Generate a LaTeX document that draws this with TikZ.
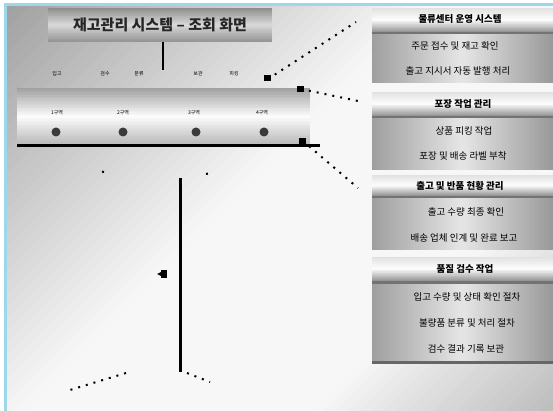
\documentclass[tikz,border=0pt]{standalone}
\usepackage{fontspec}
\newfontfamily\kr{Noto Sans CJK KR}
\usetikzlibrary{arrows.meta}
\definecolor{edgecyan}{HTML}{9ED8E8}
\definecolor{dotgray}{HTML}{3A3A3A}
% vertical gradient: x1 y1 x2 y2 top mid bottom (brightness in %)
\newcommand\vgradbox[7]{%
  \foreach \k in {0,...,39}{%
    \pgfmathsetmacro\gt{(\k+0.5)/40}%
    \pgfmathsetmacro\gb{\gt<0.5 ? #5+(#6-#5)*2*\gt : #6+(#7-#6)*(2*\gt-1)}%
    \pgfmathsetmacro\ya{#2+(#4-#2)*\k/40}%
    \pgfmathsetmacro\yb{min(#2+(#4-#2)*(\k+1)/40+0.4,#4)}%
    \fill[white!\gb!black] (#1,\ya) rectangle (#3,\yb);
  }}
% horizontal gradient: x1 y1 x2 y2 left mid right
\newcommand\hgradbox[7]{%
  \foreach \k in {0,...,59}{%
    \pgfmathsetmacro\gt{(\k+0.5)/60}%
    \pgfmathsetmacro\gb{\gt<0.5 ? #5+(#6-#5)*2*\gt : #6+(#7-#6)*(2*\gt-1)}%
    \pgfmathsetmacro\xa{#1+(#3-#1)*\k/60}%
    \pgfmathsetmacro\xb{min(#1+(#3-#1)*(\k+1)/60+0.4,#3)}%
    \fill[white!\gb!black] (\xa,#2) rectangle (\xb,#4);
  }}
\begin{document}
\begin{tikzpicture}[x=1pt,y=-1pt,
  hdrtext/.style={font=\kr\fontsize{9.5}{11}\selectfont\bfseries, text=black, inner sep=0pt},
  paneltext/.style={font=\kr\fontsize{9.5}{11}\selectfont, text=black, inner sep=0pt},
  tinytext/.style={font=\kr\fontsize{5}{6}\selectfont, text=black, inner sep=0pt},
  dotline/.style={line width=2pt, dash pattern=on 2pt off 6pt},
  sparse/.style={line width=2pt, dash pattern=on 2pt off 9pt},
  marker/.style={fill=dotgray, draw=none, circle, minimum size=9pt, inner sep=0pt}
]
\useasboundingbox (0,0) rectangle (553,411);
\fill[white] (0,0) rectangle (553,411);
% background: diagonal gradient
\begin{scope}
  \clip (6,5) rectangle (553,411);
  \foreach \k in {0,...,79}{%
    \pgfmathsetmacro\gt{(\k+0.5)/80}%
    \pgfmathsetmacro\gb{\gt<0.45 ? 62+35*\gt/0.45 : (\gt<0.75 ? 97 : 97-23*(\gt-0.75)/0.25)}%
    \pgfmathsetmacro\ca{\k*12.05}%
    \pgfmathsetmacro\cb{(\k+1)*12.05+0.6}%
    \fill[white!\gb!black] (\ca,0) -- (\cb,0) -- (\cb-700,700) -- (\ca-700,700) -- cycle;
  }
\end{scope}
\fill[edgecyan] (4,3) rectangle (7,411);
\fill[edgecyan] (4,3) rectangle (553,6);

% title
\vgradbox{48}{8}{272}{42}{55}{85}{58}
\node[font=\kr\fontsize{15}{17}\selectfont\bfseries, text=black!85] (title) at (160,25) {재고관리 시스템 – 조회 화면};
\coordinate (tj) at (163,70);
\draw[line width=2pt] (163,42) -- (tj);

% tube
\vgradbox{17}{88}{310}{145}{62}{99}{72}
\draw[line width=3pt] (17,146) -- (320,146);

% small labels above tube
\node[tinytext] (a1) at (57,74) {입고};
\node[tinytext] (a2) at (105,74) {검수};
\node[tinytext] (a3) at (139,74) {분류};
\node[tinytext] (a4) at (198,74) {보관};
\node[tinytext] (a5) at (234,74) {피킹};

% small labels in tube
\node[tinytext] (b1) at (57,113) {1구역};
\node[tinytext] (b2) at (123,113) {2구역};
\node[tinytext] (b3) at (194,113) {3구역};
\node[tinytext] (b4) at (262,113) {4구역};

% dots
\node[marker] (d1) at (56,132) {};
\node[marker] (d2) at (123,132) {};
\node[marker] (d3) at (196,132) {};
\node[marker] (d4) at (264,132) {};

% right boxes
\vgradbox{372}{8}{553}{32}{88}{99}{58}
\fill[white!45!black] (372,32) rectangle (553,34);
\hgradbox{372}{34}{553}{83}{62}{90}{60}
\node[hdrtext] (h1) at (460,19) {물류센터 운영 시스템};
\node[paneltext] (p11) at (455,46) {주문 접수 및 재고 확인};
\node[paneltext] (p12) at (458,71) {출고 지시서 자동 발행 처리};

\vgradbox{372}{92}{553}{116}{88}{99}{58}
\fill[white!45!black] (372,116) rectangle (553,118);
\hgradbox{372}{118}{553}{170}{62}{90}{60}
\node[hdrtext] (h2) at (463,104) {포장 작업 관리};
\node[paneltext] (p21) at (464,131) {상품 피킹 작업};
\node[paneltext] (p22) at (463,156) {포장 및 배송 라벨 부착};

\vgradbox{372}{175}{553}{196}{88}{99}{58}
\fill[white!45!black] (372,196) rectangle (553,198);
\hgradbox{372}{198}{553}{250}{62}{90}{60}
\node[hdrtext] (h3) at (460,186) {출고 및 반품 현황 관리};
\node[paneltext] (p31) at (466,212) {출고 수량 최종 확인};
\node[paneltext] (p32) at (464,238) {배송 업체 인계 및 완료 보고};

\vgradbox{372}{257}{553}{281}{88}{99}{58}
\fill[white!45!black] (372,281) rectangle (553,284);
\hgradbox{372}{284}{553}{361}{62}{90}{60}
\fill[white!40!black] (372,361) rectangle (553,364);
\node[hdrtext] (h4) at (465,269) {품질 검수 작업};
\node[paneltext] (p41) at (467,297) {입고 수량 및 상태 확인 절차};
\node[paneltext] (p42) at (467,323) {불량품 분류 및 처리 절차};
\node[paneltext] (p43) at (466,349) {검수 결과 기록 보관};

% connectors from tube to boxes
\coordinate (t1) at (268,79);
\coordinate (t2) at (301,89);
\coordinate (t3) at (303,141);
\fill[black] (264,75) rectangle (271,81);
\fill[black] (297,86) rectangle (304,92);
\fill[black] (299,138) rectangle (306,144);
\draw[dotline] (t1) -- (356,22);
\draw[dotline] (t2) -- (358,101);
\draw[dotline] (t3) -- (358,188);

% lower figure
\coordinate (v1) at (180,178);
\coordinate (v2) at (180,372);
\draw[line width=3pt] (v1) -- (v2);
\draw[sparse] (v1) ++(-76,-6) -- ++(-10,-2);
\draw[sparse] (v1) ++(26,-4) -- ++(10,-2);
\draw[dotline] (v2) ++(-54,1) -- (70,390);
\draw[dotline] (v2) ++(7,1) -- (210,382);
\fill[black] (167,270) rectangle (161,278);
\fill[black] (161,272) -- (157,274) -- (161,276) -- cycle;
\end{tikzpicture}
\end{document}
